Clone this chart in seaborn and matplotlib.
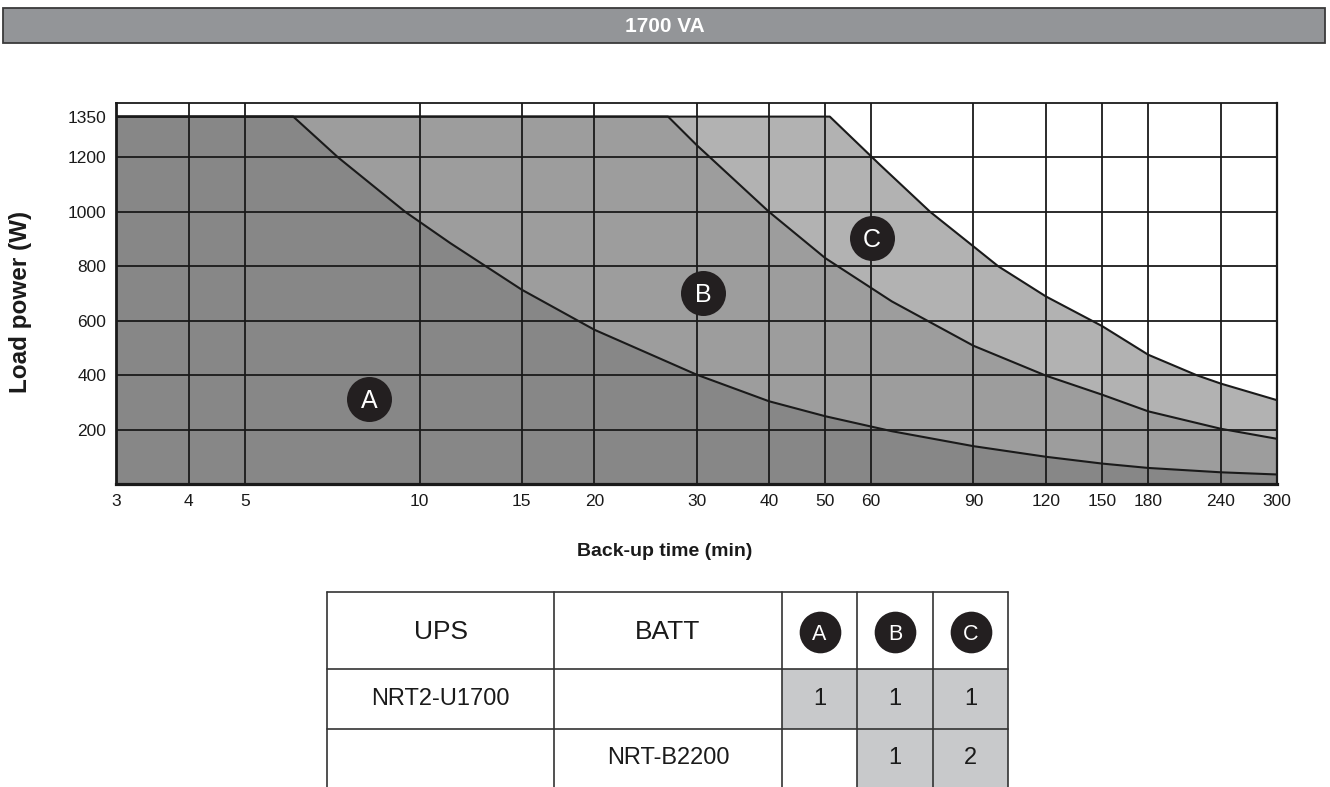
import numpy as np
import pandas as pd
import matplotlib
matplotlib.use('Agg')
import matplotlib.pyplot as plt
import seaborn as sns
from matplotlib.patches import Rectangle
from matplotlib.ticker import NullLocator

# back-up time (min) vs load power (W)
a_time = [3, 6.06, 7.24, 9.45, 11.3, 15, 20, 30, 40, 50, 65.1, 90, 120, 150, 180, 240, 300]
a_load = [1350, 1350, 1200, 1000, 885, 714, 567, 402, 304, 249, 194, 139, 100, 75, 59, 43, 35]

b_time = [3, 26.8, 30, 40, 50, 65.1, 90, 120, 150, 180, 240, 300]
b_load = [1350, 1350, 1246, 1000, 830, 671, 508, 398, 328, 267, 203, 166]

c_time = [3, 50.9, 62.1, 75.8, 90, 99.3, 120, 150, 180, 218, 240, 300]
c_load = [1350, 1350, 1173, 1000, 873, 800, 689, 580, 475, 400, 369, 308]

xticks = [3, 4, 5, 10, 15, 20, 30, 40, 50, 60, 90, 120, 150, 180, 240, 300]
yticks = [200, 400, 600, 800, 1000, 1200, 1350]

badges = ['A', 'B', 'C']
badge_time = [8.18, 30.8, 60.1]
badge_load = [314, 703, 905]

table_header = ['UPS', 'BATT', 'A', 'B', 'C']
table_rows = [['NRT2-U1700', '', '1', '1', '1'],
              ['', 'NRT-B2200', '', '1', '2']]

title = '1700 VA'

df = pd.concat([
    pd.DataFrame({'time': a_time, 'load': a_load, 'set': 'A'}),
    pd.DataFrame({'time': b_time, 'load': b_load, 'set': 'B'}),
    pd.DataFrame({'time': c_time, 'load': c_load, 'set': 'C'}),
], ignore_index=True)

sns.set_theme(style='white')
plt.rcParams['font.family'] = ['Liberation Sans', 'DejaVu Sans']

W, H = 1330, 787
fig = plt.figure(figsize=(W / 100, H / 100), dpi=100)
ink = '#1a1a1a'

# title bar
fig.patches.append(Rectangle((3 / W, 1 - 43 / H), 1322 / W, 35 / H, transform=fig.transFigure,
                             fc='#939598', ec='#3a3a3a', lw=1.3))
fig.text(0.5, 1 - 26 / H, title, color='white', fontsize=15, weight='bold', ha='center', va='center')

# main chart
ax = fig.add_axes([116 / W, 1 - 484 / H, 1161 / W, 381 / H])
fills = {'C': '#b2b2b2', 'B': '#9d9d9d', 'A': '#878787'}
for s in ['C', 'B', 'A']:
    d = df[df['set'] == s]
    ax.fill_between(d['time'], d['load'], 0, color=fills[s], lw=0, zorder=1)

sns.lineplot(data=df, x='time', y='load', units='set', estimator=None, sort=False,
             color=ink, lw=1.5, ax=ax, zorder=3)

ax.set_xscale('log')
ax.set_xlim(3, 300)
ax.set_ylim(0, 1400)
ax.set_xticks(xticks)
ax.set_xticklabels([str(t) for t in xticks])
ax.xaxis.set_minor_locator(NullLocator())
ax.set_yticks(yticks)
ax.set_yticklabels([str(t) for t in yticks])
ax.tick_params(length=0, pad=7, labelsize=12.5, labelcolor=ink)

ax.grid(True, color=ink, lw=1.3)
ax.set_axisbelow(False)
for gl, t in zip(ax.yaxis.get_gridlines(), yticks):
    if t == 1350:
        gl.set_visible(False)

for side, lw in [('left', 2.0), ('bottom', 2.3), ('top', 1.3), ('right', 1.6)]:
    ax.spines[side].set_visible(True)
    ax.spines[side].set_color(ink)
    ax.spines[side].set_linewidth(lw)
    ax.spines[side].set_zorder(4)

ax.scatter(badge_time, badge_load, s=1050, color='#231f20', zorder=5, lw=0)
for lab, t, l in zip(badges, badge_time, badge_load):
    ax.text(t, l, lab, color='white', fontsize=18, ha='center', va='center_baseline', zorder=6)

ax.set_xlabel('Back-up time (min)', fontsize=14, weight='bold', color=ink)
ax.xaxis.set_label_coords(0.473, -0.155)
ax.set_ylabel('Load power (W)', fontsize=17.5, weight='bold', color=ink)
ax.yaxis.set_label_coords(-0.072, 0.478)

# configuration table
tax = fig.add_axes([327 / W, 0, 681 / W, 195 / H])
tax.set_xlim(0, 681)
tax.set_ylim(195, 0)
tax.axis('off')
col_edges = [0, 227, 455, 530, 606, 681]
row_edges = [0, 77, 137, 200]
col_mid = [(col_edges[i] + col_edges[i + 1]) / 2 for i in range(5)]
row_mid = [(row_edges[i] + row_edges[i + 1]) / 2 for i in range(3)]
row_mid[2] = 166

for r, row in enumerate(table_rows):
    for c, val in enumerate(row):
        if c >= 2 and val:
            tax.add_patch(Rectangle((col_edges[c], row_edges[r + 1]), col_edges[c + 1] - col_edges[c],
                                    row_edges[r + 2] - row_edges[r + 1], fc='#c8c9cb', lw=0, zorder=1))
        if val:
            tax.text(col_mid[c], row_mid[r + 1], val, fontsize=17, ha='center', va='center',
                     color=ink, zorder=3)

for y in row_edges[:3]:
    tax.plot([0, 681], [y, y], color='#333333', lw=1.2, zorder=2, clip_on=False)
for x in col_edges:
    tax.plot([x, x], [0, 200], color='#333333', lw=1.2, zorder=2, clip_on=False)

for c, lab in enumerate(table_header):
    if c < 2:
        tax.text(col_mid[c], 40, lab, fontsize=19, ha='center', va='center', color=ink)
    else:
        tax.scatter([col_mid[c]], [40], s=900, color='#231f20', lw=0, zorder=3)
        tax.text(col_mid[c], 40, lab, fontsize=15.5, color='white', ha='center', va='center_baseline',
                 zorder=4)

fig.savefig('out.png', dpi=100)
